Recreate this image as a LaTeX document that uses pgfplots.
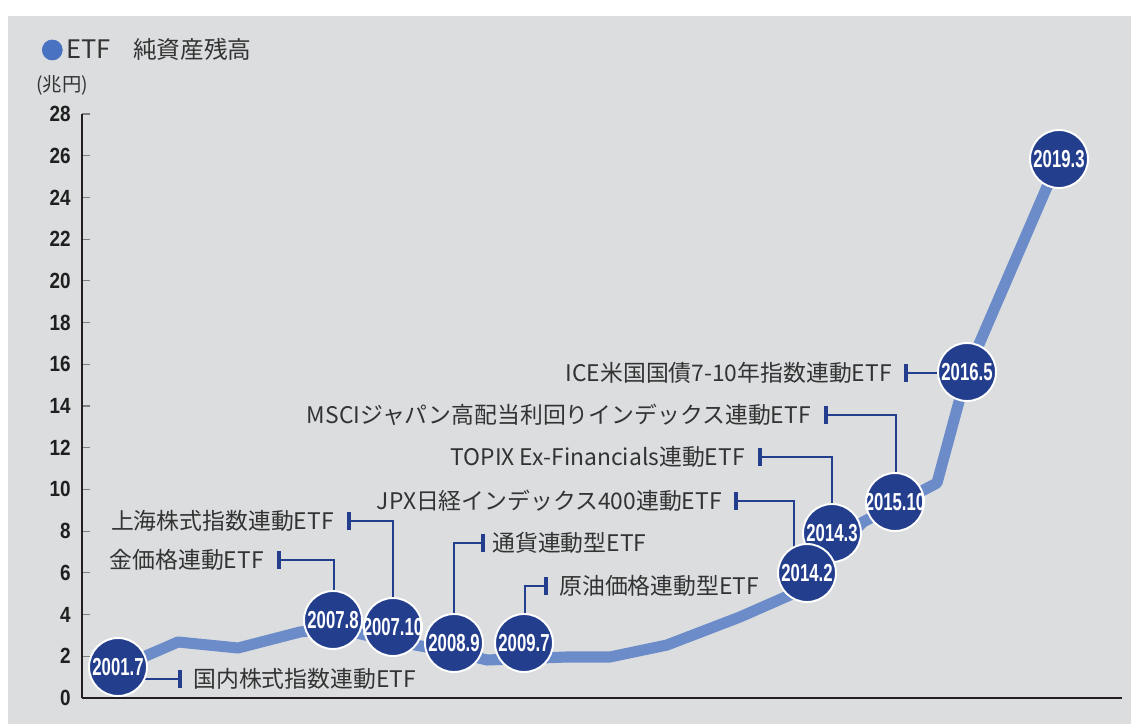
\documentclass[border=0pt]{standalone}
\usepackage{pgfplots}
\pgfplotsset{compat=1.18}
\usepackage{fontspec}
\setmainfont{Noto Sans CJK JP}
\newfontfamily\condtick[FakeStretch=0.86]{Liberation Sans}
\newfontfamily\condlab[FakeStretch=0.68]{Liberation Sans}
\definecolor{bgc}{HTML}{DCDDDF}
\definecolor{linec}{HTML}{6B8CC9}
\definecolor{navy}{HTML}{243E8E}
\definecolor{legendblue}{HTML}{4A72C2}
\definecolor{textc}{HTML}{333333}
\definecolor{axisc}{HTML}{231F20}

\tikzset{
  ann/.style={font=\fontsize{13}{15}\selectfont, text=textc, inner sep=0pt},
  lead/.style={draw=navy, line width=0.9pt},
  brk/.style={draw=navy, line width=2pt},
}
% bracket bar at the end of a leader line
\newcommand{\brkbar}[2]{\draw[brk] ([yshift=-0.18cm]axis cs:#1,#2) -- ([yshift=0.18cm]axis cs:#1,#2);}

\begin{document}
\begin{tikzpicture}
\fill[white] (0,0) rectangle (22.62cm,14.48cm);
\fill[bgc] (0.16cm,0) rectangle (22.62cm,14.16cm);
\begin{axis}[
  at={(1.64cm,0.52cm)}, anchor=south west,
  scale only axis, width=20.8cm, height=11.68cm,
  xmin=82, xmax=1122, ymin=0, ymax=28,
  axis lines=left, axis line style={-, draw=axisc},
  x axis line style={line width=1.7pt},
  y axis line style={line width=1.3pt},
  xtick=\empty, ytick={0,2,...,28},
  tick align=inside, major tick length=0.16cm,
  ytick style={draw=gray, line width=0.6pt},
  yticklabel style={font={\condtick\bfseries\fontsize{12.5}{13}\selectfont},
    text=black!88, anchor=east, inner sep=0pt, xshift=-0.22cm,
    /pgf/number format/assume math mode=true},
  ylabel={(兆円)},
  ylabel style={rotate=-90, at={(axis description cs:-0.0192,1.0497)}, anchor=center,
    font={\fontsize{11}{12}\selectfont}, text=textc},
  legend style={draw=none, fill=none, inner sep=0pt, outer sep=0pt,
    at={(axis description cs:-0.0385,1.1096)}, anchor=west,
    font={\fontsize{13.5}{15}\selectfont}, text=textc},
  clip=false,
]
\addlegendimage{legend image code/.code={\fill[legendblue] (0.2cm,0) circle (0.2cm);}}
\addlegendentry{{\fontsize{14.5}{15}\selectfont ETF}\hspace{0.45cm}純資産残高}

% ETF net assets line
\addplot[forget plot, draw=linec, line width=6.3pt, line join=bevel] coordinates {
  (118,1.438) (178,2.685) (238,2.397) (300,3.164) (333,3.356) (393,2.733)
  (454,2.206) (487,1.822) (567,1.966) (610,1.966) (667,2.541) (740,3.884)
  (790,4.938) (863,8.438) (937,10.308) (967,15.630) (1059,25.842)
};

% leader lines
\draw[lead] (axis cs:118,0.911) -- (axis cs:180,0.911);
\brkbar{180}{0.911}
\node[ann, anchor=west, xshift=0.26cm] at (axis cs:180,0.911) {国内株式指数連動ETF};

\draw[lead] (axis cs:279,6.617) -- (axis cs:334,6.617) -- (axis cs:334,3.740);
\brkbar{279}{6.617}
\node[ann, anchor=east, xshift=-0.3cm] at (axis cs:279,6.617) {金価格連動ETF};

\draw[lead] (axis cs:349,8.486) -- (axis cs:393,8.486) -- (axis cs:393,3.404);
\brkbar{349}{8.486}
\node[ann, anchor=east, xshift=-0.3cm] at (axis cs:349,8.486) {上海株式指数連動ETF};

\draw[lead] (axis cs:483,7.432) -- (axis cs:454,7.432) -- (axis cs:454,2.637);
\brkbar{483}{7.432}
\node[ann, anchor=west, xshift=0.18cm] at (axis cs:483,7.432) {通貨連動型ETF};

\draw[lead] (axis cs:546,5.370) -- (axis cs:525,5.370) -- (axis cs:525,2.637);
\brkbar{546}{5.370}
\node[ann, anchor=west, xshift=0.26cm] at (axis cs:546,5.370) {原油価格連動型ETF};

\draw[lead] (axis cs:736,9.445) -- (axis cs:794,9.445) -- (axis cs:794,5.993);
\brkbar{736}{9.445}
\node[ann, anchor=east, xshift=-0.28cm] at (axis cs:736,9.445) {JPX日経インデックス400連動ETF};

\draw[lead] (axis cs:760,11.555) -- (axis cs:832,11.555) -- (axis cs:832,7.911);
\brkbar{760}{11.555}
\node[ann, anchor=east, xshift=-0.3cm] at (axis cs:760,11.555) {TOPIX Ex-Financials連動ETF};

\draw[lead] (axis cs:826,13.569) -- (axis cs:896,13.569) -- (axis cs:896,9.397);
\brkbar{826}{13.569}
\node[ann, anchor=east, xshift=-0.3cm] at (axis cs:826,13.569) {MSCIジャパン高配当利回りインデックス連動ETF};

\draw[lead] (axis cs:906,15.583) -- (axis cs:967,15.583);
\brkbar{906}{15.583}
\node[ann, anchor=east, xshift=-0.28cm] at (axis cs:906,15.583) {ICE米国国債7-10年指数連動ETF};

% listing dates
\addplot[forget plot, only marks, mark=*, mark size=16.5pt,
  mark options={fill=navy, draw=white, line width=1.1pt},
  point meta=explicit symbolic, nodes near coords, nodes near coords align=center,
  every node near coord/.append style={font={\condlab\bfseries\fontsize{14}{14}\selectfont},
    text=white, inner sep=0pt}] coordinates {
  (118,1.486) [2001.7]
  (333,3.740) [2007.8]
  (393,3.404) [2007.10]
  (454,2.637) [2008.9]
  (524,2.637) [2009.7]
  (832,7.911) [2014.3]
  (807,5.993) [2014.2]
  (895,9.397) [2015.10]
  (967,15.630) [2016.5]
  (1059,25.842) [2019.3]
};
\end{axis}
\end{tikzpicture}
\end{document}
